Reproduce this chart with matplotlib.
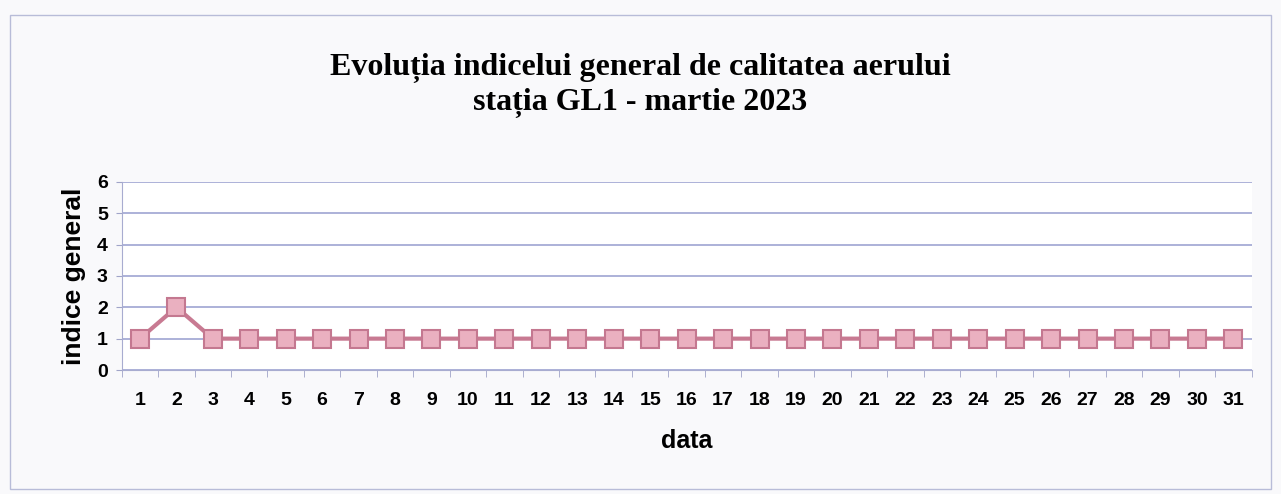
import matplotlib.pyplot as plt
from matplotlib.patches import Rectangle

days = list(range(1, 32))
indice = [1, 2] + [1] * 29
y_ticks = [0, 1, 2, 3, 4, 5, 6]

fig = plt.figure(figsize=(12.81, 4.94), dpi=100)
fig.patch.set_facecolor("#f9f9fb")
fig.patches.append(Rectangle((0.008, 0.01), 0.984, 0.96, transform=fig.transFigure,
                             fill=False, edgecolor="#b8bcd8", linewidth=1))

ax = fig.add_axes([0.095, 0.251, 0.882, 0.381])
ax.set_facecolor("white")

ax.plot(days, indice, color="#c87a92", linewidth=3, marker="s", markersize=13,
        markerfacecolor="#eab0c0", markeredgecolor="#c47890", markeredgewidth=1.5,
        zorder=3)

ax.set_xlim(0.5, 31.5)
ax.set_ylim(0, 6)
ax.set_yticks(y_ticks)
ax.set_xticks(days)
ax.set_xticks([d + 0.5 for d in range(0, 32)], minor=True)
ax.tick_params(axis="x", which="major", length=0, pad=16)
ax.tick_params(axis="x", which="minor", length=5, color="#a0a4c8", direction="out")
ax.tick_params(axis="y", length=4, color="#a0a4c8", pad=6)
for lab in ax.get_xticklabels() + ax.get_yticklabels():
    lab.set_fontfamily("Liberation Sans")
    lab.set_fontweight("bold")
    lab.set_fontsize(14)

ax.grid(axis="y", color="#9ea4d2", linewidth=1.2)
ax.set_axisbelow(True)
for side in ["top", "right"]:
    ax.spines[side].set_visible(False)
ax.spines["left"].set_color("#a8acd0")
ax.spines["bottom"].set_color("#a8acd0")

ax.set_xlabel("data", fontfamily="Liberation Sans", fontweight="bold", fontsize=18, labelpad=14)
ax.set_ylabel("indice general", fontfamily="Liberation Sans", fontweight="bold", fontsize=19, labelpad=8)

fig.text(0.5, 0.862, "Evoluția indicelui general de calitatea aerului",
         ha="center", va="center", fontfamily="Liberation Serif", fontweight="bold", fontsize=23)
fig.text(0.5, 0.792, "stația GL1 - martie 2023",
         ha="center", va="center", fontfamily="Liberation Serif", fontweight="bold", fontsize=23)

fig.savefig("out.png", dpi=100)
